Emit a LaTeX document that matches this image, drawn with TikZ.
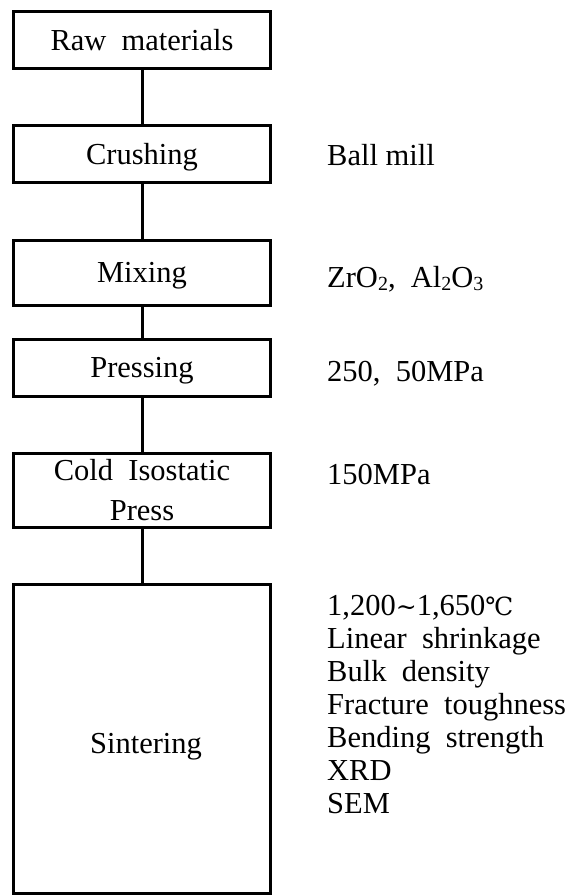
\documentclass[tikz,border=0pt]{standalone}
\usepackage{fontspec}
\setmainfont{Liberation Serif}
\newfontfamily\symfont{DejaVu Serif}
\newcommand{\mysub}[1]{\raisebox{-0.25ex}{\fontsize{20}{20}\selectfont #1}}
\newcommand{\symch}[1]{{\symfont\fontsize{25}{33}\selectfont #1}}
\begin{document}
\begin{tikzpicture}[x=1pt,y=-1pt,
  box/.style={draw, line width=3pt, minimum width=257pt, inner sep=0pt, align=center,
    text height=20pt, text depth=0pt, font=\fontsize{30.5}{40}\selectfont},
  note/.style={anchor=west, inner sep=0pt, align=left, text height=20pt, text depth=0pt,
    font=\fontsize{30.5}{33}\selectfont},
  link/.style={line width=3pt}]
\useasboundingbox (0,0) rectangle (570,896);
\node[box, minimum height=57pt] (raw) at (142,40.5) {Raw\ \ materials};
\node[box, minimum height=57pt] (crush) at (142,154.5) {Crushing};
\node[box, minimum height=65pt] (mix) at (142,272.5) {Mixing};
\node[box, minimum height=57pt] (press) at (142,367.5) {Pressing};
\node[box, minimum height=74pt, text height=60pt] (cip) at (142,490) {Cold\ \ Isostatic\\Press};
\node[box, minimum height=309pt] (sint) at (142,738.5) {};
\node[font=\fontsize{30.5}{33}\selectfont, inner sep=0pt, text height=20pt, text depth=0pt] (sintlabel) at (146,743) {Sintering};
\draw[link] (raw) -- (crush);
\draw[link] (crush) -- (mix);
\draw[link] (mix) -- (press);
\draw[link] (press) -- (cip);
\draw[link] (cip) -- (sint);
\node[note] (n1) at (327,156) {Ball mill};
\node[note] (n2) at (327,277) {ZrO\mysub{2},\ \ Al\mysub{2}O\mysub{3}};
\node[note] (n3) at (327,371) {250,\ \ 50MPa};
\node[note] (n4) at (327,474) {150MPa};
\node[note, anchor=north west, text height=, text depth=] (n5) at (327,595) {1,200\symch{∼}1,650\symch{℃}\\Linear\ \ shrinkage\\Bulk\ \ density\\Fracture\ \ toughness\\Bending\ \ strength\\XRD\\SEM};
\end{tikzpicture}
\end{document}
